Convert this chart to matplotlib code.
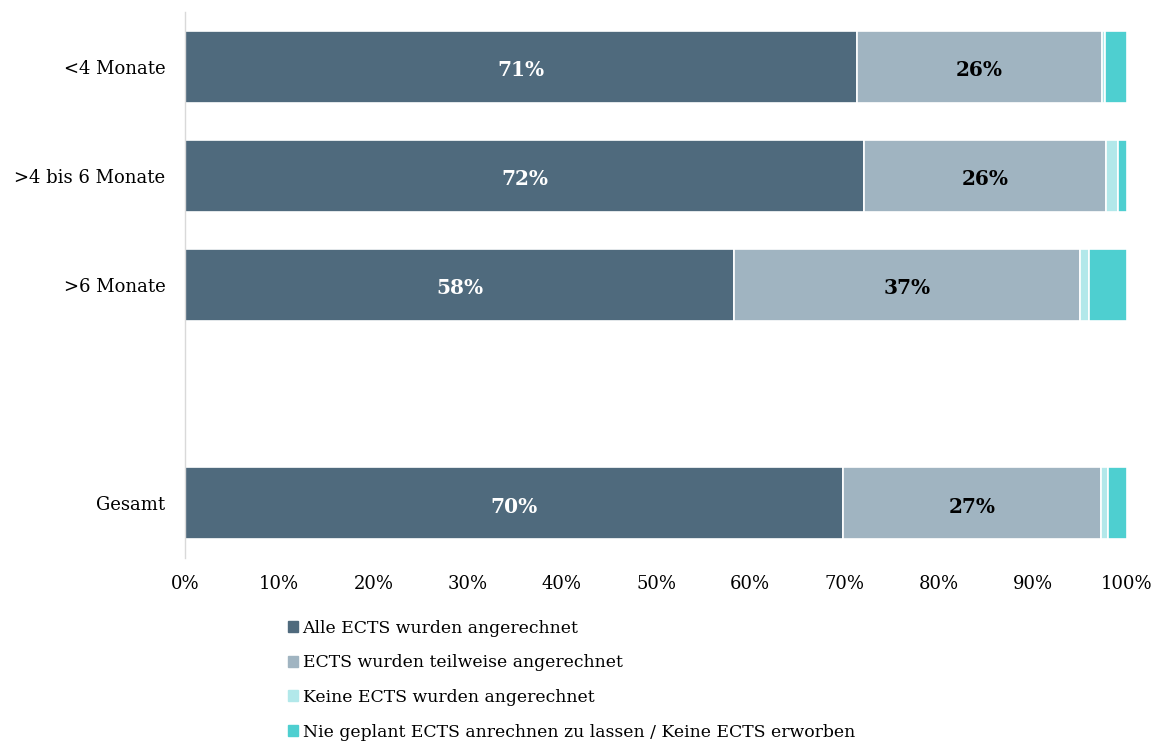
import matplotlib
matplotlib.use("Agg")
import matplotlib.pyplot as plt
import numpy as np

categories = ["<4 Monate", ">4 bis 6 Monate", ">6 Monate", "", "Gesamt"]
series_names = [
    "Alle ECTS wurden angerechnet",
    "ECTS wurden teilweise angerechnet",
    "Keine ECTS wurden angerechnet",
    "Nie geplant ECTS anrechnen zu lassen / Keine ECTS erworben",
]
alle = [71.3, 72.1, 58.3, 0, 69.9]
teilweise = [26.0, 25.7, 36.7, 0, 27.3]
keine = [0.4, 1.2, 1.0, 0, 0.8]
nie = [2.3, 1.0, 4.0, 0, 2.0]
labels_alle = ["71%", "72%", "58%", "", "70%"]
labels_teil = ["26%", "26%", "37%", "", "27%"]
xticks = [0, 10, 20, 30, 40, 50, 60, 70, 80, 90, 100]

colors = ["#4f6a7d", "#a0b4c1", "#b2e8ea", "#4ecfd0"]

plt.rcParams["font.family"] = ["DejaVu Serif"]

fig = plt.figure(figsize=(11.6, 7.45), dpi=100)
ax = fig.add_axes([185 / 1160, 1 - 558 / 745, (1127 - 185) / 1160, (558 - 12) / 745])

y = np.arange(len(categories))
data = [alle, teilweise, keine, nie]
left = np.zeros(len(categories))
for vals, c, name in zip(data, colors, series_names):
    vals = np.array(vals, dtype=float)
    ax.barh(y, vals, left=left, height=0.66, color=c, edgecolor="white",
            linewidth=1.2, label=name)
    left = left + vals

for i in range(len(categories)):
    if labels_alle[i]:
        ax.text(alle[i] / 2, y[i] + 0.03, labels_alle[i], ha="center", va="center",
                color="white", fontweight="bold", fontsize=14.5)
        ax.text(alle[i] + teilweise[i] / 2, y[i] + 0.03, labels_teil[i], ha="center",
                va="center", color="black", fontweight="bold", fontsize=14.5)

ax.set_ylim(4.5, -0.5)
ax.set_xlim(0, 100)
ax.set_yticks([0, 1, 2, 4])
ax.set_yticklabels([categories[0], categories[1], categories[2], categories[4]], fontsize=13)
ax.set_xticks(xticks)
ax.set_xticklabels([f"{t}%" for t in xticks], fontsize=13)
ax.tick_params(axis="y", length=0, pad=14)
ax.tick_params(axis="x", length=0, pad=12)
for s in ["top", "right", "bottom"]:
    ax.spines[s].set_visible(False)
ax.spines["left"].set_color("#d9d9d9")
ax.spines["left"].set_linewidth(1.0)

handles = [plt.Rectangle((0, 0), 1, 1, color=c) for c in colors]
fig.legend(handles, series_names, loc="upper left",
           bbox_to_anchor=(281 / 1160, 1 - 613 / 745), frameon=False,
           fontsize=12.4, handlelength=0.6, handleheight=0.6, handletextpad=0.25,
           labelspacing=1.02, borderaxespad=0)

fig.savefig("out.png", dpi=100)
